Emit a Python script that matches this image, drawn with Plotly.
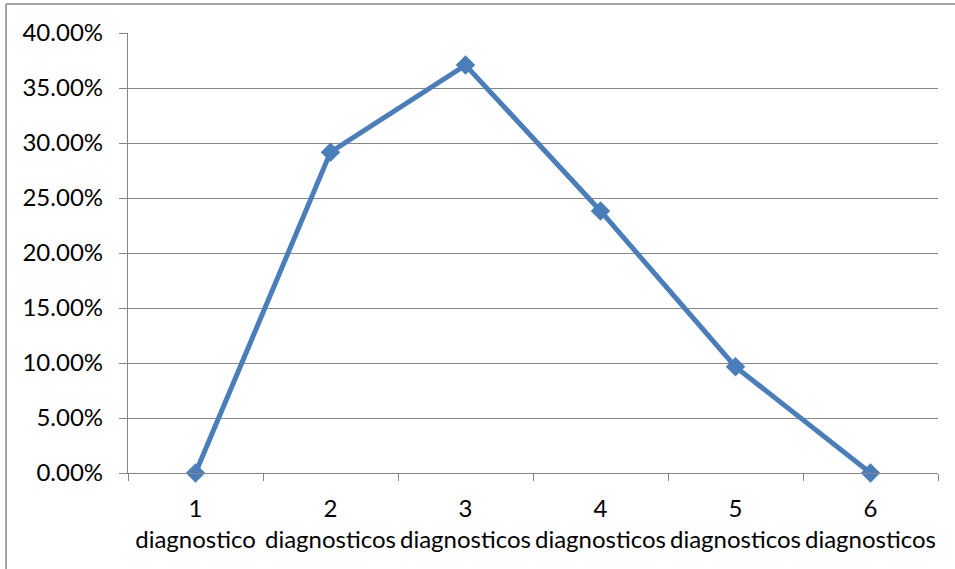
import plotly.graph_objects as go

# Number of diagnoses per case and share of cases
categories = ["1<br>diagnostico", "2<br>diagnosticos", "3<br>diagnosticos",
              "4<br>diagnosticos", "5<br>diagnosticos", "6<br>diagnosticos"]
shares = [0.0, 0.2917, 0.3708, 0.2382, 0.0965, 0.0]

y_ticks = [0.0, 0.05, 0.10, 0.15, 0.20, 0.25, 0.30, 0.35, 0.40]

W, H = 955, 569
L, R, T, B = 128, 17, 33, 96
pw, ph = W - L - R, H - T - B

FONT = "Lato"
GRID = "#878787"
LINE = "#4A7EBB"

fig = go.Figure(
    go.Scatter(
        x=categories,
        y=shares,
        mode="lines+markers",
        line=dict(color=LINE, width=5),
        marker=dict(symbol="diamond", size=15, color=LINE),
        cliponaxis=False,
        showlegend=False,
    )
)

# Outer chart frame (left and top edges)
def px_to_paper_x(px):
    return (px - L) / pw

def px_to_paper_y(py):
    return (H - B - py) / ph

frame = dict(color="#a3a3a3", width=2)
fig.add_shape(type="line", xref="paper", yref="paper",
              x0=px_to_paper_x(6), x1=px_to_paper_x(6),
              y0=px_to_paper_y(4), y1=px_to_paper_y(H + 5), line=frame)
fig.add_shape(type="line", xref="paper", yref="paper",
              x0=px_to_paper_x(6), x1=px_to_paper_x(W + 5),
              y0=px_to_paper_y(4), y1=px_to_paper_y(4), line=frame)

fig.update_layout(
    width=W, height=H,
    margin=dict(l=L, r=R, t=T, b=B, pad=0, autoexpand=False),
    paper_bgcolor="white",
    plot_bgcolor="white",
    font=dict(family=FONT, size=24, color="black"),
)

fig.update_xaxes(
    type="category",
    categoryorder="array",
    categoryarray=categories,
    range=[-0.5, len(categories) - 0.5],
    showgrid=False,
    showline=True, linecolor=GRID, linewidth=1.3,
    ticks="outside", tickson="boundaries", ticklen=7,
    tickcolor=GRID, tickwidth=1.3,
    tickangle=0, automargin=False,
    tickfont=dict(family=FONT, size=24, color="black"),
    ticklabelstandoff=14,
)

fig.update_yaxes(
    range=[0, 0.4],
    tickvals=y_ticks,
    tickformat=".2%",
    showgrid=True, gridcolor=GRID, gridwidth=1.3,
    zeroline=False,
    showline=True, linecolor=GRID, linewidth=1.3,
    ticks="outside", ticklen=8, tickcolor=GRID, tickwidth=1.3,
    automargin=False,
    tickfont=dict(family=FONT, size=24, color="black"),
    ticklabelstandoff=11,
)

fig.write_html("out.html")
